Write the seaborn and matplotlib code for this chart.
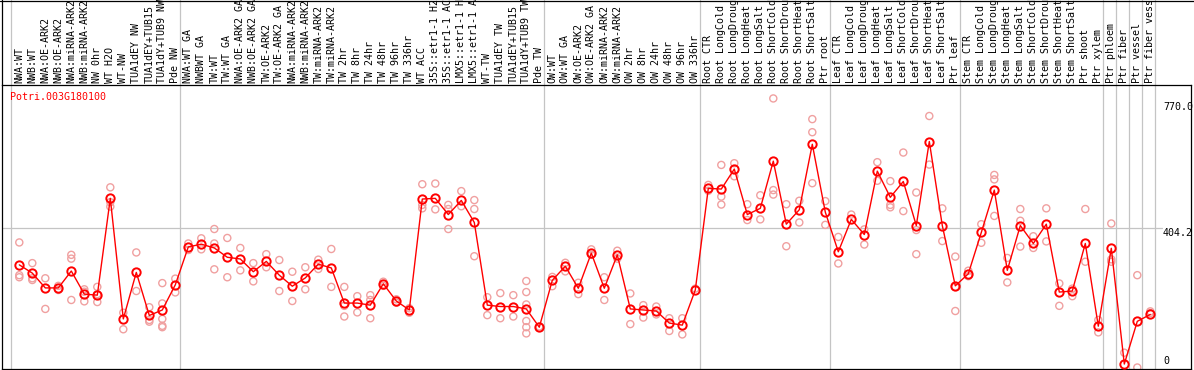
import numpy as np
import pandas as pd
import matplotlib
matplotlib.use("Agg")
import matplotlib.pyplot as plt
from matplotlib.lines import Line2D
from matplotlib.transforms import blended_transform_factory
import seaborn as sns

gene_id = "Potri.003G180100"

samples = [
    # nw / tension wood series
    "NWA:WT", "NWB:WT", "NWA:OE-ARK2", "NWB:OE-ARK2", "NWA:miRNA-ARK2",
    "NWB:miRNA-ARK2", "NW 0hr", "WT H2O", "WT-NW", "TUA1dEY NW",
    "TUA1dEY+TUB15", "TUA1dY+TUB9 NW", "Pde NW",
    "NWA:WT GA", "NWBWT GA", "TW:WT", "TW:WT GA", "NWA:OE-ARK2 GA",
    "NWB:OE-ARK2 GA", "TW:OE-ARK2", "TW:OE-ARK2 GA", "NWA:miRNA-ARK2",
    "NWB:miRNA-ARK2", "TW:miRNA-ARK2", "TW:miRNA-ARK2", "TW 2hr", "TW 8hr",
    "TW 24hr", "TW 48hr", "TW 96hr", "TW 336hr", "WT ACC", "35S::etr1-1 H2",
    "35S::etr1-1 AC", "LMX5::etr1-1 H", "LMX5::etr1-1 A", "WT-TW",
    "TUA1dEY TW", "TUA1dEY+TUB15", "TUA1dY+TUB9 TW", "Pde TW",
    "OW:WT", "OW:WT GA", "OW:OE-ARK2", "OW:OE-ARK2 GA", "OW:miRNA-ARK2",
    "OW:miRNA-ARK2", "OW 2hr", "OW 8hr", "OW 24hr", "OW 48hr", "OW 96hr",
    "OW 336hr",
    # stress series
    "Root CTR", "Root LongCold", "Root LongDroug", "Root LongHeat",
    "Root LongSalt", "Root ShortCold", "Root ShortDrou", "Root ShortHeat",
    "Root ShortSalt", "Ptr root",
    "Leaf CTR", "Leaf LongCold", "Leaf LongDroug", "Leaf LongHeat",
    "Leaf LongSalt", "Leaf ShortCold", "Leaf ShortDrou", "Leaf ShortHeat",
    "Leaf ShortSalt", "Ptr leaf",
    "Stem CTR", "Stem LongCold", "Stem LongDroug", "Stem LongHeat",
    "Stem LongSalt", "Stem ShortCold", "Stem ShortDrou", "Stem ShortHeat",
    "Stem ShortSalt", "Ptr shoot", "Ptr xylem",
    "Ptr phloem", "Ptr fiber", "Ptr vessel", "Ptr fiber vess",
]

group_sizes = [13, 28, 12, 10, 10, 11, 1, 1, 1, 1]

mean_values = [
    298, 274, 231, 231, 280, 213, 210, 491, 141, 276, 151, 167, 240,
    350, 358, 347, 320, 315, 278, 308, 268, 236, 260, 300, 289, 187, 187,
    181, 243, 193, 167, 489, 491, 444, 485, 421, 181, 177, 177, 170, 117,
    253, 294, 230, 332, 230, 327, 170, 167, 164, 129, 123, 225,
    520, 518, 576, 444, 462, 599, 416, 458, 648, 451,
    336, 430, 386, 570, 494, 540, 412, 656, 412, 237,
    272, 392, 515, 282, 412, 360, 416, 219, 222, 360, 120,
    346, 10, 134, 154,
]

replicate_values = [
    [363, 268, 262], [303, 259, 254], [259, 170], [237, 225],
    [327, 316, 196], [227, 220, 192], [234, 213, 190], [523, 480, 467],
    [159, 111], [334, 222], [175, 138, 133], [245, 186, 141, 121, 117],
    [258, 218],
    [360, 341], [375, 343], [402, 360, 285], [376, 262], [347, 282],
    [303, 250], [329, 291], [312, 222], [278, 193], [291, 227], [313, 286],
    [344, 234], [234, 179, 148], [207, 160], [210, 196, 143], [249, 237],
    [198, 188], [172, 159], [532, 472, 462], [534, 459], [472, 460, 402],
    [512, 468], [486, 460, 323], [204, 152], [216, 143], [210, 148],
    [251, 219, 183, 135, 117, 99], [119],
    [263, 236], [304, 279], [246, 213], [343, 327], [262, 196], [339, 316],
    [215, 126], [181, 145], [177, 154], [143, 106], [143, 96], [229],
    [530, 513], [588, 496, 473], [593, 555], [474, 428], [500, 430],
    [781, 515, 502], [474, 352], [484, 421], [721, 683, 535], [483, 414],
    [379, 302], [444], [401, 357], [596, 542], [541, 472, 465], [624, 454],
    [508, 399, 329], [730, 589], [462, 367], [322, 234, 164],
    [281, 265], [416, 362], [559, 546, 440], [318, 247], [460, 426, 351],
    [381, 347], [462, 366], [244, 179], [229, 207], [460, 307], [138, 102],
    [418, 314, 307], [43], [268, 0], [163, 158],
]

scale_labels = ["770.0", "404.2", "0"]
scale_values = [770.0, 404.2, 0.0]

# long table for the replicate points
rep_df = pd.DataFrame(
    [(i, v) for i, reps in enumerate(replicate_values) for v in reps],
    columns=["pos", "value"],
)
mean_df = pd.DataFrame({"pos": np.arange(len(samples)), "value": mean_values})

sns.set_style("white")
plt.rcParams["font.family"] = ["DejaVu Sans Mono", "DejaVu Sans"]

W, H = 1194, 370
L, R, T, B = 1.5, 1190.5, 85, 369
step = 13.0          # px between samples
x0 = 19.3            # px of first sample
y_zero, px_per_unit = 367.5, 0.3445

fig = plt.figure(figsize=(W / 100, H / 100), dpi=100)
fig.patch.set_facecolor("white")
ax = fig.add_axes([L / W, (H - B) / H, (R - L) / W, (B - T) / H])

xmin = -(x0 - L) / step
ax.set_xlim(xmin, xmin + (R - L) / step)
ax.set_ylim((y_zero - B) / px_per_unit, (y_zero - T) / px_per_unit)
ax.set_xticks([])
ax.set_yticks([])
for sp in ax.spines.values():
    sp.set_color("black")
    sp.set_linewidth(0.9)

# group separators, running up through the label strip
bounds = [-0.5] + list(np.cumsum(group_sizes) - 0.5)
for b in bounds:
    ax.axvline(b - 0.15, ymin=0, ymax=B / (B - T), color="#c4c4c4",
               lw=0.9, clip_on=False, zorder=0)
ax.axhline(404.2, xmin=0, xmax=(1162 - L) / (R - L), color="#c4c4c4",
           lw=0.9, zorder=0)

sns.scatterplot(data=rep_df, x="pos", y="value", marker="o", s=26,
                facecolors="none", edgecolor="#f0a0a0", linewidth=1.0,
                legend=False, ax=ax, zorder=2, clip_on=False)
sns.lineplot(data=mean_df, x="pos", y="value", color="red", linewidth=1.0,
             marker="o", markersize=6, markerfacecolor="none",
             markeredgecolor="red", markeredgewidth=1.4, ax=ax, zorder=3)
ax.set_xlabel("")
ax.set_ylabel("")

# sample names, vertical, above the plot
lab_tr = blended_transform_factory(ax.transData, ax.transAxes)
for i, name in enumerate(samples):
    ax.text(i, (B - 83) / (B - T), name, rotation=90, ha="center",
            va="bottom", fontsize=7.2, color="black", transform=lab_tr,
            clip_on=False)

# value scale on the right
sc_tr = blended_transform_factory(ax.transAxes, ax.transData)
for lab, val in zip(scale_labels, scale_values):
    ax.text((1163 - L) / (R - L), val if val > 0 else 4, lab,
            ha="left", va="top" if val > 0 else "bottom",
            fontsize=7.2, color="black", transform=sc_tr)

fig.text(10 / W, 1 - 92 / H, gene_id, color="red", fontsize=7.2,
         ha="left", va="top")

# outer frame of the label strip
fig.add_artist(Line2D([0, 1], [1 - 0.5 / H] * 2, color="black", lw=0.9))
fig.add_artist(Line2D([L / W] * 2, [1 - T / H, 1], color="black", lw=0.9))

fig.savefig("out.png", dpi=100)
